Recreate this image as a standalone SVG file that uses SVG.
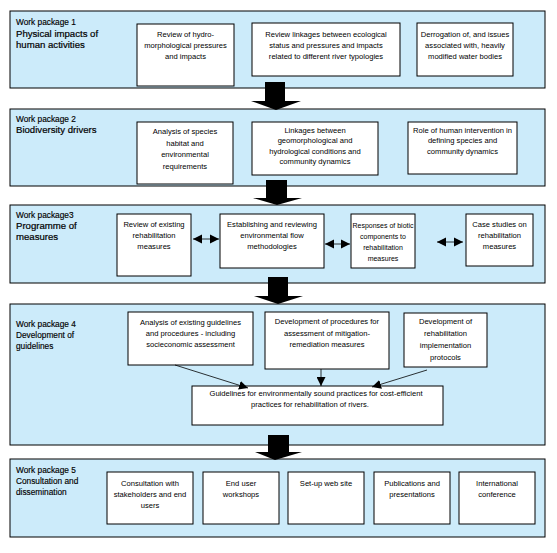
<svg xmlns="http://www.w3.org/2000/svg" width="557" height="553" viewBox="0 0 557 553">
<style>
.band{fill:#CCEBFA;stroke:#000;stroke-width:1}
.box{fill:#fff;stroke:#000;stroke-width:1}
text{font-family:"Liberation Sans",Arial,sans-serif;fill:#000}
.t{font-size:7.6px;text-anchor:middle}
.wp{font-size:8.3px;stroke:#000;stroke-width:0.15}
.h{font-size:9.6px;stroke:#000;stroke-width:0.2}
.big{fill:#000}
.thin{stroke:#000;stroke-width:0.8;fill:none}
</style>
<defs>
<marker id="ah" viewBox="0 0 10 10" refX="10" refY="5" markerWidth="9" markerHeight="9" markerUnits="userSpaceOnUse" orient="auto-start-reverse">
<path d="M0,0 L10,5 L0,10 Z" fill="#000"/>
</marker>
<marker id="dh" viewBox="0 0 10 10" refX="10" refY="5" markerWidth="9" markerHeight="10" markerUnits="userSpaceOnUse" orient="auto-start-reverse">
<path d="M0,0 L10,5 L0,10 Z" fill="#000"/>
</marker>
</defs>

<g id="wp1">
<rect class="band" x="10" y="11" width="535" height="77"/>
<text class="wp" x="16" y="25">Work package 1</text>
<text class="h" x="16" y="37">Physical impacts of</text>
<text class="h" x="16" y="48">human activities</text>
</g>
<g id="wp1-a">
<rect class="box" x="137" y="24" width="97" height="62"/>
<text class="t" x="185.5" y="37">Review of hydro-</text>
<text class="t" x="185.5" y="48">morphological pressures</text>
<text class="t" x="185.5" y="59">and impacts</text>
</g>
<g id="wp1-b">
<rect class="box" x="252" y="23" width="148" height="53"/>
<text class="t" x="326" y="37">Review linkages between ecological</text>
<text class="t" x="326" y="48">status and pressures and impacts</text>
<text class="t" x="326" y="59">related to different river typologies</text>
</g>
<g id="wp1-c">
<rect class="box" x="417" y="23" width="96" height="53"/>
<text class="t" x="465" y="37">Derrogation of, and issues</text>
<text class="t" x="465" y="48">associated with, heavily</text>
<text class="t" x="465" y="59">modified water bodies</text>
</g>

<g id="wp2">
<rect class="band" x="10" y="109" width="535" height="77"/>
<text class="wp" x="16" y="122">Work package 2</text>
<text class="h" x="16" y="133">Biodiversity drivers</text>
</g>
<g id="wp2-a">
<rect class="box" x="137" y="122" width="96" height="62"/>
<text class="t" x="185" y="134">Analysis of species</text>
<text class="t" x="185" y="145.5">habitat and</text>
<text class="t" x="185" y="157">environmental</text>
<text class="t" x="185" y="168.5">requirements</text>
</g>
<g id="wp2-b">
<rect class="box" x="252" y="122" width="126" height="53"/>
<text class="t" x="315" y="132.5">Linkages between</text>
<text class="t" x="315" y="143">geomorphological and</text>
<text class="t" x="315" y="153.5">hydrological conditions and</text>
<text class="t" x="315" y="164">community dynamics</text>
</g>
<g id="wp2-c">
<rect class="box" x="408" y="122" width="109" height="52"/>
<text class="t" x="462.5" y="132.5">Role of human intervention in</text>
<text class="t" x="462.5" y="143">defining species and</text>
<text class="t" x="462.5" y="153.5">community dynamics</text>
</g>

<g id="wp3">
<rect class="band" x="10" y="205" width="535" height="78"/>
<text class="wp" x="16" y="218">Work package3</text>
<text class="h" x="16" y="229">Programme of</text>
<text class="h" x="16" y="240">measures</text>
</g>
<g id="wp3-a">
<rect class="box" x="117" y="214" width="74" height="62"/>
<text class="t" x="154" y="227">Review of existing</text>
<text class="t" x="154" y="238">rehabilitation</text>
<text class="t" x="154" y="249">measures</text>
</g>
<g id="wp3-b">
<rect class="box" x="220" y="214" width="104" height="54"/>
<text class="t" x="272" y="227">Establishing and reviewing</text>
<text class="t" x="272" y="238">environmental flow</text>
<text class="t" x="272" y="249">methodologies</text>
</g>
<g id="wp3-c">
<rect class="box" x="351" y="214" width="64" height="54"/>
<text class="t" x="383" y="228" style="font-size:7px">Responses of biotic</text>
<text class="t" x="383" y="239" style="font-size:7px">components to</text>
<text class="t" x="383" y="250" style="font-size:7px">rehabilitation</text>
<text class="t" x="383" y="261" style="font-size:7px">measures</text>
</g>
<g id="wp3-d">
<rect class="box" x="466" y="214" width="67" height="52"/>
<text class="t" x="499.5" y="227">Case studies on</text>
<text class="t" x="499.5" y="238">rehabilitation</text>
<text class="t" x="499.5" y="249">measures</text>
</g>

<g id="wp4">
<rect class="band" x="10" y="304" width="535" height="141"/>
<text class="wp" x="16" y="327">Work package 4</text>
<text class="wp" x="16" y="338">Development of</text>
<text class="wp" x="16" y="349">guidelines</text>
</g>
<g id="wp4-a">
<rect class="box" x="128" y="312" width="125" height="53"/>
<text class="t" x="190.5" y="325">Analysis of existing guidelines</text>
<text class="t" x="190.5" y="336">and procedures - including</text>
<text class="t" x="190.5" y="347">socieconomic assessment</text>
</g>
<g id="wp4-b">
<rect class="box" x="265" y="312" width="124" height="57"/>
<text class="t" x="327" y="324">Development of procedures for</text>
<text class="t" x="327" y="335.5">assessment of mitigation-</text>
<text class="t" x="327" y="347">remediation measures</text>
</g>
<g id="wp4-c">
<rect class="box" x="404" y="313" width="83" height="54"/>
<text class="t" x="445.5" y="324">Development of</text>
<text class="t" x="445.5" y="336">rehabilitation</text>
<text class="t" x="445.5" y="348">implementation</text>
<text class="t" x="445.5" y="360">protocols</text>
</g>
<g id="wp4-d">
<rect class="box" x="192" y="386" width="251" height="39"/>
<text class="t" x="316" y="396">Guidelines for environmentally sound practices for cost-efficient</text>
<text class="t" x="310" y="407">practices for rehabilitation of rivers.</text>
</g>

<g id="wp5">
<rect class="band" x="10" y="459" width="535" height="78"/>
<text class="wp" x="16" y="473">Work package 5</text>
<text class="wp" x="16" y="484">Consultation and</text>
<text class="wp" x="16" y="495">dissemination</text>
</g>
<g id="wp5-a">
<rect class="box" x="107" y="472" width="86" height="52"/>
<text class="t" x="150" y="486">Consultation with</text>
<text class="t" x="150" y="497">stakeholders and end</text>
<text class="t" x="150" y="508">users</text>
</g>
<g id="wp5-b">
<rect class="box" x="203" y="472" width="76" height="52"/>
<text class="t" x="241" y="486">End user</text>
<text class="t" x="241" y="497">workshops</text>
</g>
<g id="wp5-c">
<rect class="box" x="288" y="472" width="76" height="52"/>
<text class="t" x="326" y="486">Set-up web site</text>
</g>
<g id="wp5-d">
<rect class="box" x="374" y="472" width="76" height="52"/>
<text class="t" x="412" y="486">Publications and</text>
<text class="t" x="412" y="497">presentations</text>
</g>
<g id="wp5-e">
<rect class="box" x="459" y="472" width="76" height="52"/>
<text class="t" x="497" y="486">International</text>
<text class="t" x="497" y="497">conference</text>
</g>

<g id="connectors">
<path class="big" d="M265,82 H285 V101 H301 L276,110 L251,101 H265 Z"/>
<path class="big" d="M266,180 H287 V198 H302 L277,205 L253,198 H266 Z"/>
<path class="big" d="M268,277 H288 V296 H303 L278,304 L254,296 H268 Z"/>
<path class="big" d="M268,435 H289 V452 H302 L275,460 L255,452 H268 Z"/>
<line class="thin" x1="193" y1="239" x2="219" y2="239" marker-start="url(#dh)" marker-end="url(#dh)"/>
<line class="thin" x1="325" y1="244" x2="350" y2="244" marker-start="url(#dh)" marker-end="url(#dh)"/>
<line class="thin" x1="437" y1="242" x2="463" y2="242" marker-start="url(#dh)" marker-end="url(#dh)"/>
<line class="thin" x1="175" y1="365" x2="248" y2="388" marker-end="url(#ah)"/>
<line class="thin" x1="321" y1="369" x2="321" y2="386" marker-end="url(#ah)"/>
<line class="thin" x1="427" y1="370" x2="372" y2="387" marker-end="url(#ah)"/>
</g>
</svg>
